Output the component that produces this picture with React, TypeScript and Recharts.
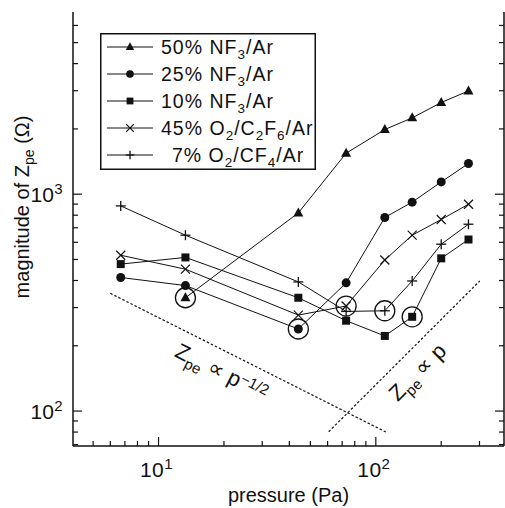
import React from 'react';
import { LineChart, Line, XAxis, YAxis, ReferenceLine, ReferenceDot, Legend, Label } from 'recharts';

const FONT = '"Liberation Sans", Arial, Helvetica, sans-serif';
const INK = '#111';

// pressure (Pa)
const pressures = [6.7, 13.3, 44, 73, 110, 147, 200, 267];
// magnitude of Zpe (ohm)
const nf3_50 = [null, 333, 820, 1545, 1987, 2249, 2646, 2994];
const nf3_25 = [413, 379, 239, 390, 781, 919, 1139, 1385];
const nf3_10 = [476, 511, 333, 261, 222, 272, 506, 618];
const o2c2f6_45 = [523, 451, 277, 305, 497, 647, 764, 899];
const o2cf4_7 = [883, 647, 394, 288, 290, 398, 588, 727];

// highlighted (circled) points [pressure, Zpe]
const circledPoints: [number, number][] = [
  [13.3, 333],
  [44, 239],
  [73, 305],
  [110, 290],
  [147, 272],
];

// scaling guide lines
const guideHalf = [{ x: 6.0, y: 349 }, { x: 113, y: 79.4 }];
const guideOne = [{ x: 60.7, y: 80.3 }, { x: 301, y: 398 }];

const xDomain = [4.04, 389];
const yDomain = [69, 6920];
const xTicks = [5, 6, 7, 8, 9, 10, 20, 30, 40, 50, 60, 70, 80, 90, 100, 200, 300];
const yTicks = [70, 80, 90, 100, 200, 300, 400, 500, 600, 700, 800, 900, 1000, 2000, 3000, 4000, 5000, 6000];
const xMajor = [10, 100];
const yMajor = [100, 1000];

type Seg = [string, ('sub' | 'sup')?];

const seriesList: { key: string; kind: string; label: Seg[]; pad?: boolean; values: (number | null)[] }[] = [
  { key: 's50', kind: 'tri', label: [['50% NF'], ['3', 'sub'], ['/Ar']], values: nf3_50 },
  { key: 's25', kind: 'circle', label: [['25% NF'], ['3', 'sub'], ['/Ar']], values: nf3_25 },
  { key: 's10', kind: 'square', label: [['10% NF'], ['3', 'sub'], ['/Ar']], values: nf3_10 },
  { key: 's45', kind: 'cross', label: [['45% O'], ['2', 'sub'], ['/C'], ['2', 'sub'], ['F'], ['6', 'sub'], ['/Ar']], values: o2c2f6_45 },
  { key: 's7', kind: 'plus', pad: true, label: [['7% O'], ['2', 'sub'], ['/CF'], ['4', 'sub'], ['/Ar']], values: o2cf4_7 },
];

const annotations: { x: number; y: number; angle: number; segs: Seg[] }[] = [
  { x: 19.5, y: 151, angle: 26.7, segs: [['Z'], ['pe', 'sub'], [' \u221D p'], ['\u22121/2', 'sup']] },
  { x: 156, y: 151, angle: -45, segs: [['Z'], ['pe', 'sub'], [' \u221D p']] },
];

const data = pressures.map((p, i) => {
  const row: any = { p };
  seriesList.forEach((s) => {
    row[s.key] = s.values[i];
  });
  return row;
});

function rich(segs: Seg[], small: number, shift: number) {
  let cur = 0;
  return segs.map(([t, mode], i) => {
    const target = mode === 'sub' ? shift : mode === 'sup' ? -shift : 0;
    const dy = target - cur;
    cur = target;
    return (
      <tspan key={i} dy={dy === 0 ? undefined : dy} fontSize={mode ? small : undefined}>
        {t}
      </tspan>
    );
  });
}

function Marker({ kind, cx, cy, s = 1 }: { kind: string; cx: number; cy: number; s?: number }) {
  switch (kind) {
    case 'tri':
      return <polygon points={`${cx},${cy - 5.5 * s} ${cx - 5 * s},${cy + 3.5 * s} ${cx + 5 * s},${cy + 3.5 * s}`} fill={INK} />;
    case 'circle':
      return <circle cx={cx} cy={cy} r={4.5 * s} fill={INK} />;
    case 'square':
      return <rect x={cx - 4 * s} y={cy - 4 * s} width={8 * s} height={8 * s} fill={INK} />;
    case 'cross':
      return (
        <g stroke={INK} strokeWidth={1.2}>
          <line x1={cx - 4.5 * s} y1={cy - 4.5 * s} x2={cx + 4.5 * s} y2={cy + 4.5 * s} />
          <line x1={cx - 4.5 * s} y1={cy + 4.5 * s} x2={cx + 4.5 * s} y2={cy - 4.5 * s} />
        </g>
      );
    case 'plus':
      return (
        <g stroke={INK} strokeWidth={1.3}>
          <line x1={cx - 5 * s} y1={cy} x2={cx + 5 * s} y2={cy} />
          <line x1={cx} y1={cy - 5 * s} x2={cx} y2={cy + 5 * s} />
        </g>
      );
    default:
      return null;
  }
}

const makeDot = (kind: string) => (props: any) => {
  const { cx, cy, index, value } = props;
  const k = `${kind}-${index}`;
  if (cx == null || cy == null || Number.isNaN(cx) || Number.isNaN(cy) || value == null) return <g key={k} />;
  return (
    <g key={k}>
      <Marker kind={kind} cx={cx} cy={cy} />
    </g>
  );
};

const XTick = (props: any) => {
  const { x, y, payload, side } = props;
  const v = payload.value;
  const major = xMajor.includes(v);
  const len = major ? 9 : 5;
  const dir = side === 'bottom' ? -1 : 1;
  return (
    <g>
      <line x1={x} x2={x} y1={y} y2={y + dir * len} stroke={INK} strokeWidth={1.2} />
      {major && side === 'bottom' && (
        <text x={x - 2} y={y + 31} textAnchor="middle" fontSize={21} fontFamily={FONT} fill={INK} letterSpacing={0.5}>
          {rich([['10'], [String(Math.round(Math.log10(v))), 'sup']], 15, 8)}
        </text>
      )}
    </g>
  );
};

const YTick = (props: any) => {
  const { x, y, payload, side } = props;
  const v = payload.value;
  const major = yMajor.includes(v);
  const len = major ? 9 : 5;
  const dir = side === 'left' ? 1 : -1;
  return (
    <g>
      <line x1={x} x2={x + dir * len} y1={y} y2={y} stroke={INK} strokeWidth={1.2} />
      {major && side === 'left' && (
        <text x={x - 10} y={y + 8} textAnchor="end" fontSize={21} fontFamily={FONT} fill={INK} letterSpacing={0.3}>
          {rich([['10'], [String(Math.round(Math.log10(v))), 'sup']], 15, 8)}
        </text>
      )}
    </g>
  );
};

const XTitle = (props: any) => {
  const vb = props.viewBox || {};
  return (
    <text x={vb.x + vb.width / 2} y={vb.y + 56} textAnchor="middle" fontSize={20} fontFamily={FONT} fill={INK}>
      pressure (Pa)
    </text>
  );
};

const YTitle = (props: any) => {
  const vb = props.viewBox || {};
  const cx = 29;
  const cy = vb.y + vb.height / 2 - 22;
  return (
    <text x={cx} y={cy} transform={`rotate(-90 ${cx} ${cy})`} textAnchor="middle" fontSize={20} fontFamily={FONT} fill={INK}>
      {rich([['magnitude of Z'], ['pe', 'sub'], [' (\u03A9)']], 14, 5)}
    </text>
  );
};

const LegendBox = () => (
  <svg width={216} height={137} style={{ display: 'block' }}>
    <rect x={0.75} y={0.75} width={214.5} height={135.5} fill="#fff" stroke={INK} strokeWidth={1.5} />
    {seriesList.map((s, i) => {
      const cy = 14 + 27 * i;
      return (
        <g key={s.key}>
          <line x1={7} x2={53} y1={cy} y2={cy} stroke={INK} strokeWidth={1} />
          <Marker kind={s.kind} cx={30} cy={cy} s={0.85} />
          <text x={s.pad ? 72 : 61} y={cy + 7} fontSize={19.5} fontFamily={FONT} letterSpacing={1} fill={INK}>
            {rich(s.label, 13.5, 5)}
          </text>
        </g>
      );
    })}
  </svg>
);

const annotationShape = (a: { angle: number; segs: Seg[] }) => (props: any) => {
  const { cx, cy } = props;
  return (
    <text
      x={cx}
      y={cy + 7}
      transform={`rotate(${a.angle} ${cx} ${cy})`}
      textAnchor="middle"
      fontSize={22}
      fontFamily={FONT}
      fill={INK}
    >
      {rich(a.segs, 15, 6)}
    </text>
  );
};

export default function App() {
  const axisLine = { stroke: INK, strokeWidth: 1.5 };
  return (
    <div style={{ position: 'absolute', left: 0, top: 0, background: '#fff' }}>
      <LineChart width={505} height={508} data={data} margin={{ top: 12, right: 0, bottom: 0, left: 0 }}>
        <XAxis
          xAxisId={0}
          type="number"
          dataKey="p"
          scale="log"
          domain={xDomain}
          allowDataOverflow
          ticks={xTicks}
          interval={0}
          tickSize={0}
          tickMargin={0}
          tickLine={false}
          axisLine={axisLine}
          height={62}
          tick={(p: any) => <XTick {...p} side="bottom" />}
        >
          <Label content={XTitle} />
        </XAxis>
        <XAxis
          xAxisId="top"
          orientation="top"
          type="number"
          scale="log"
          domain={xDomain}
          allowDataOverflow
          ticks={xTicks}
          interval={0}
          tickSize={0}
          tickMargin={0}
          tickLine={false}
          axisLine={axisLine}
          height={0}
          tick={(p: any) => <XTick {...p} side="top" />}
        />
        <YAxis
          yAxisId={0}
          type="number"
          scale="log"
          domain={yDomain}
          allowDataOverflow
          ticks={yTicks}
          interval={0}
          tickSize={0}
          tickMargin={0}
          tickLine={false}
          axisLine={axisLine}
          width={73}
          tick={(p: any) => <YTick {...p} side="left" />}
        >
          <Label content={YTitle} />
        </YAxis>
        <YAxis
          yAxisId="right"
          orientation="right"
          type="number"
          scale="log"
          domain={yDomain}
          allowDataOverflow
          ticks={yTicks}
          interval={0}
          tickSize={0}
          tickMargin={0}
          tickLine={false}
          axisLine={axisLine}
          width={1}
          tick={(p: any) => <YTick {...p} side="right" />}
        />
        <ReferenceLine segment={guideHalf} stroke={INK} strokeWidth={1.2} strokeDasharray="2.5 2" ifOverflow="visible" />
        <ReferenceLine segment={guideOne} stroke={INK} strokeWidth={1.2} strokeDasharray="2.5 2" ifOverflow="visible" />
        {seriesList.map((s) => (
          <Line
            key={s.key}
            dataKey={s.key}
            stroke={INK}
            strokeWidth={1}
            dot={makeDot(s.kind)}
            activeDot={false}
            isAnimationActive={false}
            connectNulls={false}
          />
        ))}
        {circledPoints.map(([x, y], i) => (
          <ReferenceDot key={`c${i}`} x={x} y={y} r={10} fill="none" stroke={INK} strokeWidth={1.3} ifOverflow="visible" />
        ))}
        {annotations.map((a, i) => (
          <ReferenceDot key={`a${i}`} x={a.x} y={a.y} r={1} ifOverflow="visible" shape={annotationShape(a)} />
        ))}
        <Legend
          layout="vertical"
          align="center"
          verticalAlign="middle"
          wrapperStyle={{ left: 100, top: 33, width: 216, height: 137 }}
          content={() => <LegendBox />}
        />
      </LineChart>
    </div>
  );
}
